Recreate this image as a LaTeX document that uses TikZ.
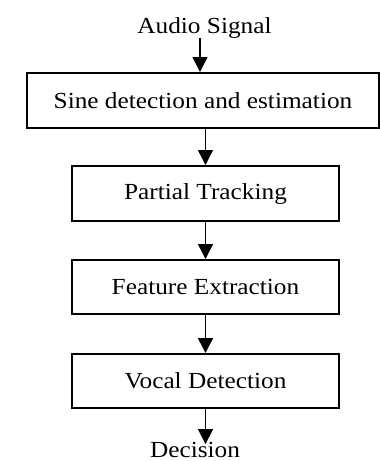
\documentclass[tikz,border=0pt]{standalone}
\usepackage{fontspec}
\setmainfont{Liberation Serif}[FakeStretch=1.1]
\usetikzlibrary{arrows.meta}
\begin{document}
\begin{tikzpicture}[x=1pt,y=-1pt,
  stagebox/.style={draw,line width=2pt,rectangle,inner sep=0pt,align=center,
    font=\fontsize{23}{27}\selectfont},
  lbl/.style={inner sep=0pt,font=\fontsize{23}{27}\selectfont,anchor=base},
  arr/.style={line width=1.5pt,-{Triangle[length=15pt,width=15pt]}}]
\useasboundingbox (0,0) rectangle (380,461);
\node[lbl] (audio) at (204.5,33) {Audio Signal};
\node[stagebox,minimum width=352pt,minimum height=55pt] (b1) at (203,100.5) {Sine detection and estimation};
\node[stagebox,minimum width=267pt,minimum height=55pt] (b2) at (205.5,193.5) {Partial Tracking};
\node[stagebox,minimum width=267pt,minimum height=54pt] (b3) at (205.5,287) {Feature Extraction};
\node[stagebox,minimum width=267pt,minimum height=54pt] (b4) at (205.5,381) {Vocal Detection};
\node[lbl] (dec) at (195,457.5) {Decision};
\coordinate (ax) at (200,0);
\draw[arr] (audio.south -| ax) -- (b1.north -| ax);
\draw[arr] (b1.south -| b2.north) -- (b2.north);
\draw[arr] (b2.south) -- (b3.north);
\draw[arr] (b3.south) -- (b4.north);
\draw[arr,shorten >=-2pt] (b4.south) -- (b4.south |- dec.north);
\end{tikzpicture}
\end{document}
